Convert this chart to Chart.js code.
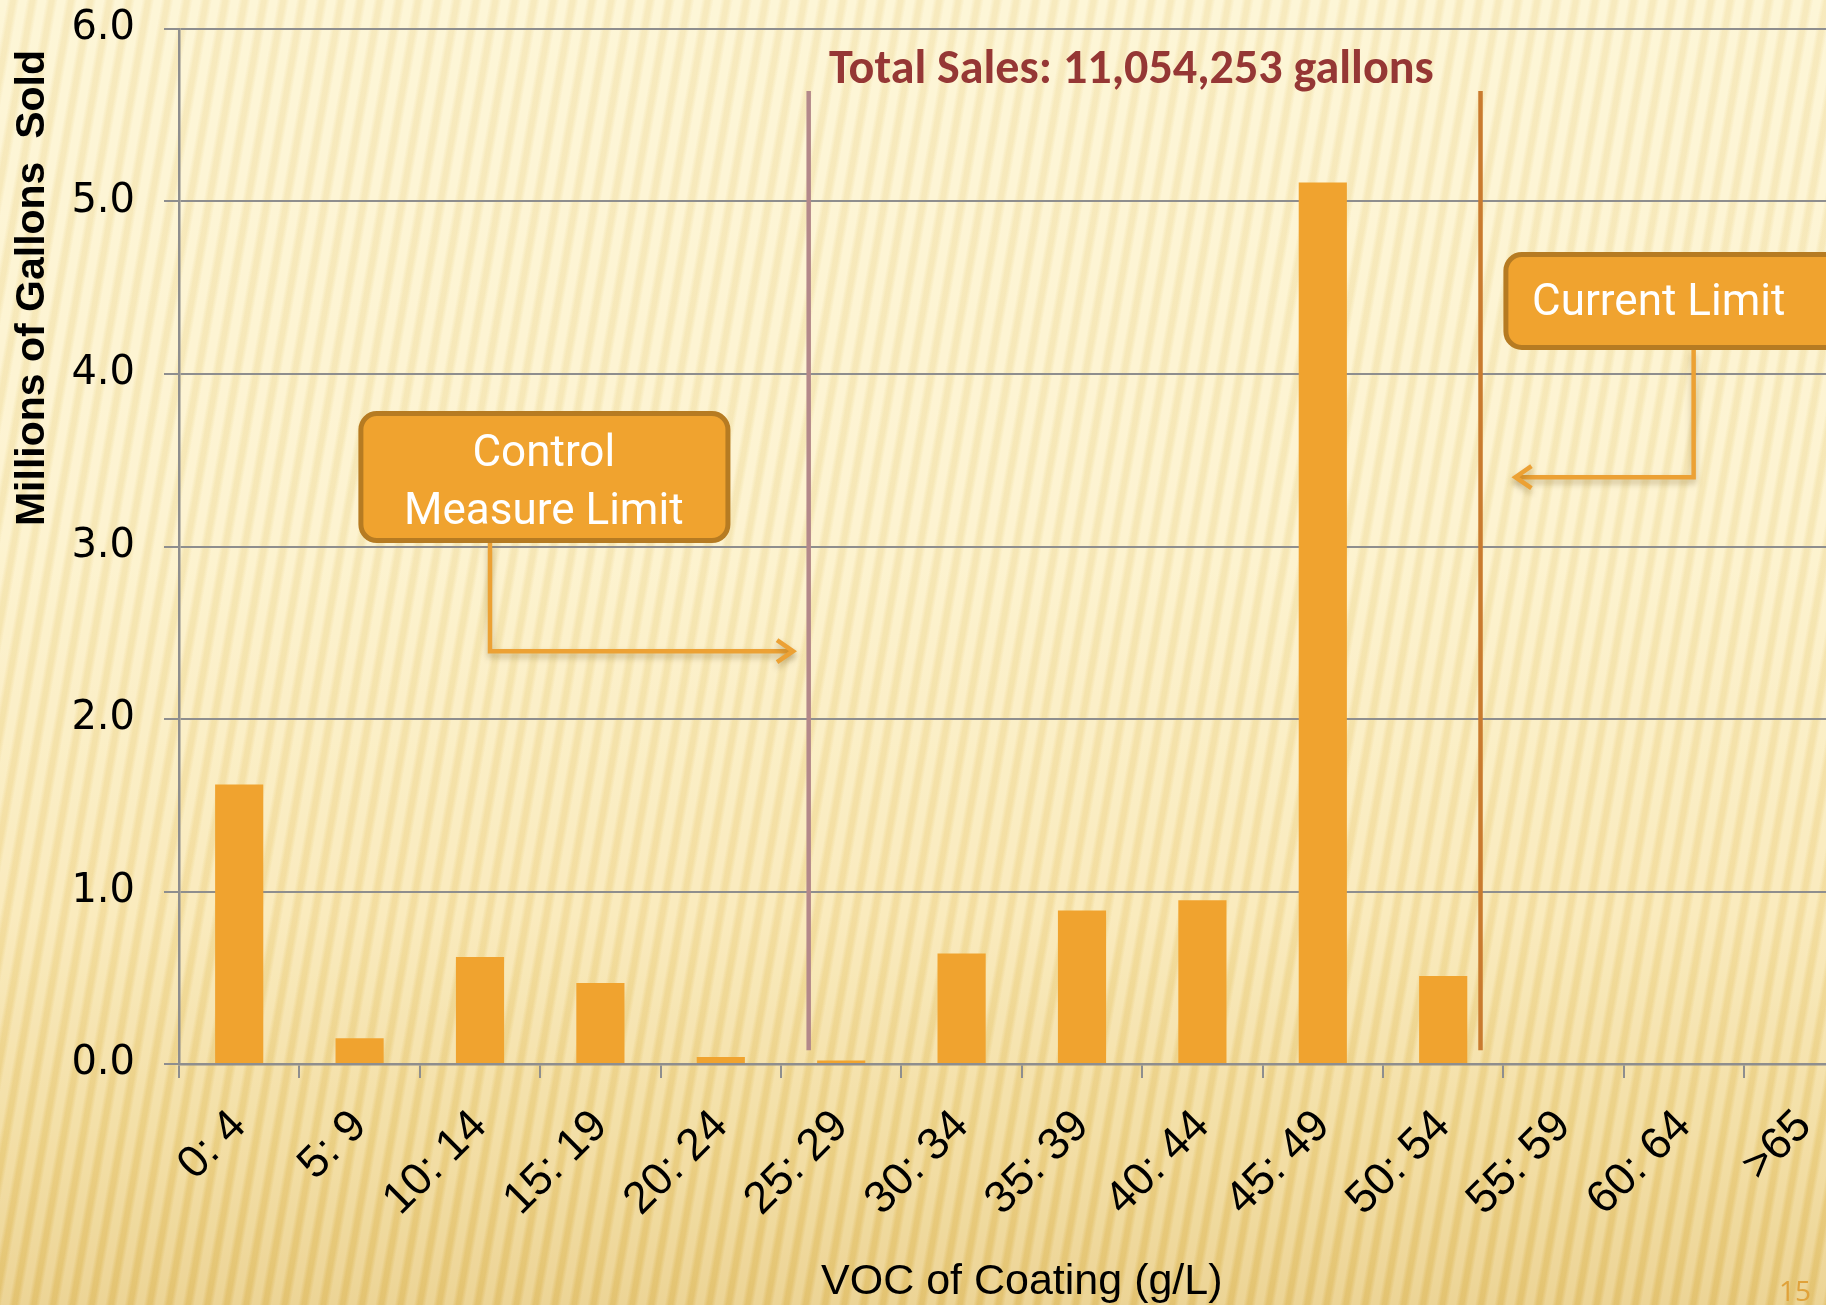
<!DOCTYPE html>
<html>
<head>
<meta charset="utf-8">
<title>VOC of Coating</title>
<script src="https://cdn.jsdelivr.net/npm/chart.js@4.4.0/dist/chart.umd.min.js"></script>
<style>
  html, body { margin: 0; padding: 0; width: 1826px; height: 1305px; overflow: hidden; }
  body {
    background:
      repeating-linear-gradient(100deg, rgba(255,255,255,0.22) 0px, rgba(255,255,255,0.22) 7px, rgba(190,145,45,0.09) 11px, rgba(190,145,45,0.09) 15px, rgba(255,255,255,0.22) 19px),
      linear-gradient(to bottom, #fdf3cc 0%, #fcf0c4 40%, #f8e5ab 70%, #efd58c 88%, #e7c878 100%);
  }
  #wrap { position: absolute; left: 0; top: 0; }
</style>
</head>
<body>
<div id="wrap"><canvas id="myChart" width="1900" height="1305"></canvas></div>
<script>
// VOC ranges (g/L) and sales in millions of gallons
const vocRanges = ['0: 4', '5: 9', '10: 14', '15: 19', '20: 24', '25: 29', '30: 34',
  '35: 39', '40: 44', '45: 49', '50: 54', '55: 59', '60: 64', '>65'];
const gallonsSold = [1.62, 0.15, 0.62, 0.47, 0.04, 0.02, 0.64, 0.89, 0.95, 5.11, 0.51, 0, 0, 0];
const yTicks = [0, 1, 2, 3, 4, 5, 6];

// limit lines, x in category units (0 = first category centre)
const controlLimitX = [4.73, 4.73];
const controlLimitY = [0.08, 5.64];
const currentLimitX = [10.31, 10.31];
const currentLimitY = [0.08, 5.64];

const totalSales = 'Total Sales: 11,054,253 gallons';

// callout boxes in data units (x category units, y millions)
const callouts = [
  { lines: ['Control', 'Measure Limit'], box: [0.99, 3.785, 4.08, 3.02], textX: 2.53, baselines: [3.466, 3.13],
    path: [[2.083, 3.02], [2.083, 2.393], [4.60, 2.393]] },
  { lines: ['Current Limit'], box: [10.5, 4.707, 13.4, 4.139], textX: 11.79, baselines: [4.342],
    path: [[12.08, 4.139], [12.08, 3.402], [10.60, 3.402]] }
];

const toPoints = (xs, ys) => xs.map((x, i) => ({ x: x, y: ys[i] }));

function drawArrowHead(ctx, x, y, dir) {
  ctx.beginPath();
  ctx.moveTo(x - dir * 16, y - 11);
  ctx.lineTo(x, y);
  ctx.lineTo(x - dir * 16, y + 11);
  ctx.stroke();
}

const extras = {
  id: 'extras',
  afterDatasetsDraw(chart) {
    const ctx = chart.ctx;
    const xs = chart.scales.xl, ys = chart.scales.y;
    const area = chart.chartArea;
    ctx.save();

    // callouts
    callouts.forEach(c => {
      ctx.save();
      ctx.strokeStyle = '#eca134';
      ctx.lineWidth = 4.5;
      ctx.shadowColor = 'rgba(110,80,20,0.35)';
      ctx.shadowBlur = 6;
      ctx.shadowOffsetY = 4;
      ctx.beginPath();
      c.path.forEach((p, i) => {
        const px = xs.getPixelForValue(p[0]), py = ys.getPixelForValue(p[1]);
        if (i === 0) ctx.moveTo(px, py); else ctx.lineTo(px, py);
      });
      ctx.stroke();
      const last = c.path[c.path.length - 1], prev = c.path[c.path.length - 2];
      drawArrowHead(ctx, xs.getPixelForValue(last[0]), ys.getPixelForValue(last[1]), last[0] > prev[0] ? 1 : -1);
      ctx.restore();

      const x1 = xs.getPixelForValue(c.box[0]), y1 = ys.getPixelForValue(c.box[1]);
      const x2 = xs.getPixelForValue(c.box[2]), y2 = ys.getPixelForValue(c.box[3]);
      ctx.beginPath();
      ctx.roundRect(x1 + 2.5, y1 + 2.5, x2 - x1 - 5, y2 - y1 - 5, 16);
      ctx.fillStyle = '#f0a32f';
      ctx.fill();
      ctx.lineWidth = 5;
      ctx.strokeStyle = '#b67b22';
      ctx.stroke();

      ctx.fillStyle = '#ffffff';
      ctx.font = '44px Roboto, "Open Sans", sans-serif';
      ctx.textAlign = 'center';
      ctx.textBaseline = 'alphabetic';
      c.lines.forEach((t, i) => {
        ctx.fillText(t, xs.getPixelForValue(c.textX), ys.getPixelForValue(c.baselines[i]));
      });
    });

    // total sales label
    ctx.fillStyle = '#953735';
    ctx.font = 'bold 40px Carlito, Lato, sans-serif';
    const w = ctx.measureText(totalSales).width;
    const size = 40 * 605 / w;
    ctx.font = 'bold ' + size.toFixed(1) + 'px Carlito, Lato, sans-serif';
    ctx.textAlign = 'center';
    ctx.fillText(totalSales, xs.getPixelForValue(7.41), ys.getPixelForValue(5.687));

    // axis titles
    ctx.fillStyle = '#000000';
    ctx.save();
    ctx.translate(33, 288);
    ctx.rotate(-Math.PI / 2);
    ctx.font = 'bold 41px "Liberation Sans", Arial, sans-serif';
    ctx.textAlign = 'center';
    ctx.textBaseline = 'middle';
    ctx.fillText('Millions of Gallons  Sold', 0, 0);
    ctx.restore();

    ctx.font = '43px "Liberation Sans", Arial, sans-serif';
    ctx.textAlign = 'center';
    ctx.textBaseline = 'alphabetic';
    ctx.fillText('VOC of Coating (g/L)', (area.left + area.right) / 2, 1294);

    // slide number
    ctx.fillStyle = '#e0a23a';
    ctx.font = '28px "Open Sans", sans-serif';
    ctx.textAlign = 'right';
    ctx.fillText('15', 1811, 1301);
    ctx.restore();
  }
};

const gridGray = '#8e8e8e';

const ctx = document.getElementById('myChart').getContext('2d');
const myChart = new Chart(ctx, {
  type: 'bar',
  data: {
    labels: vocRanges,
    datasets: [{
      label: 'Millions of Gallons Sold',
      data: gallonsSold,
      backgroundColor: '#f0a32f',
      grouped: false,
      barPercentage: 0.4,
      categoryPercentage: 1.0,
      xAxisID: 'x',
      order: 2
    }, {
      type: 'line',
      label: 'Control Measure Limit',
      data: toPoints(controlLimitX, controlLimitY),
      xAxisID: 'xl',
      borderColor: '#b3888a',
      borderWidth: 4.5,
      pointRadius: 0,
      order: 1
    }, {
      type: 'line',
      label: 'Current Limit',
      data: toPoints(currentLimitX, currentLimitY),
      xAxisID: 'xl',
      borderColor: '#c97b2f',
      borderWidth: 4.5,
      pointRadius: 0,
      order: 1
    }]
  },
  options: {
    responsive: false,
    animation: false,
    layout: { padding: { top: 29, right: 35.4, left: 0, bottom: 0 } },
    plugins: { legend: { display: false }, tooltip: { enabled: false } },
    scales: {
      x: {
        type: 'category',
        grid: { drawOnChartArea: false, color: gridGray, lineWidth: 2, tickLength: 14, offset: true },
        border: { color: gridGray, width: 2.5 },
        ticks: {
          color: '#000',
          font: { family: '"Liberation Sans", Arial, sans-serif', size: 45 },
          minRotation: 45, maxRotation: 45, autoSkip: false, padding: 22
        },
        afterFit: s => { s.height = 241; }
      },
      xl: { type: 'linear', display: false, offset: false, min: -0.5, max: 13.5 },
      y: {
        min: 0, max: 6,
        afterBuildTicks: s => { s.ticks = yTicks.map(v => ({ value: v })); },
        grid: { color: gridGray, lineWidth: 2, tickLength: 15 },
        border: { color: gridGray, width: 2.5 },
        ticks: {
          color: '#000',
          font: { family: '"DejaVu Sans", sans-serif', size: 40 },
          padding: 29,
          callback: v => v.toFixed(1)
        },
        afterFit: s => { s.width = 179; s.paddingTop = 0; s.paddingBottom = 0; }
      }
    }
  },
  plugins: [extras]
});
</script>
</body>
</html>
